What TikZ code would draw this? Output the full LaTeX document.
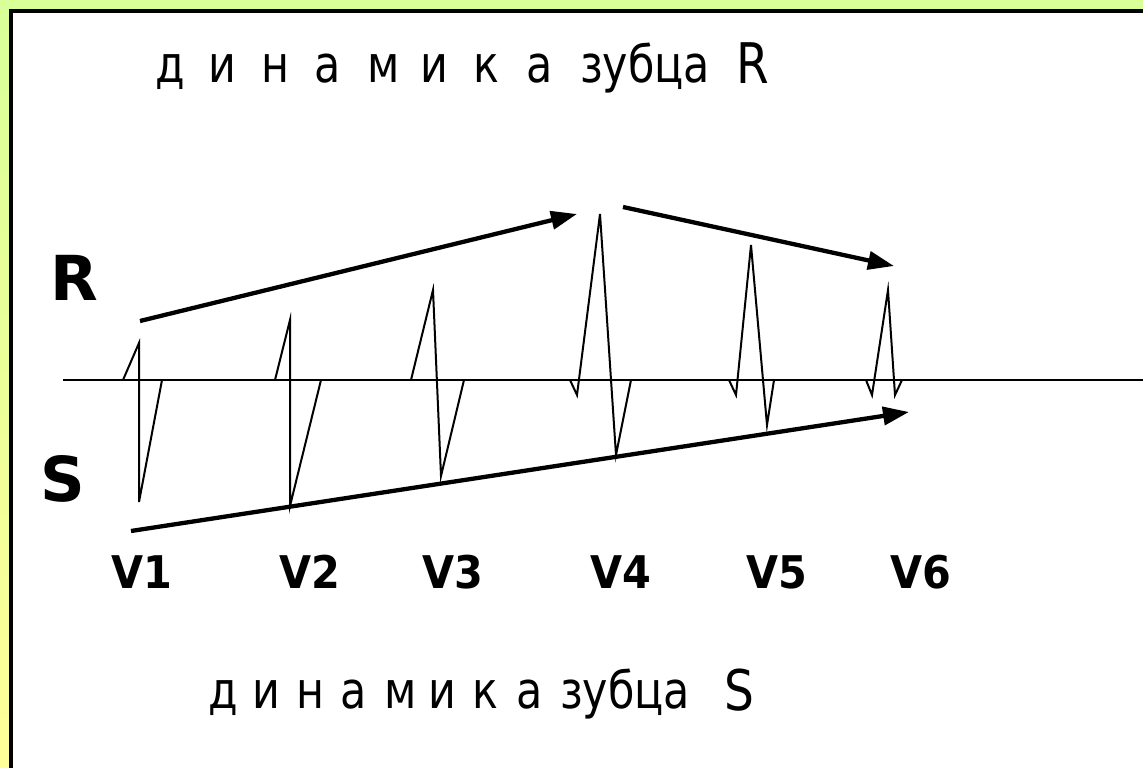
\documentclass[tikz,border=0pt]{standalone}
\usepackage{fontspec}
\setmainfont{DejaVu Sans}
\usetikzlibrary{arrows.meta}
\definecolor{bgtop}{RGB}{217,255,153}
\definecolor{bgbot}{RGB}{255,255,153}
\begin{document}
\begin{tikzpicture}[x=1pt,y=-1pt,
  wave/.style={line width=2pt},
  trend/.style={line width=4.3pt,-{Triangle[length=26pt,width=18pt]}},
  lett/.style={font=\fontsize{51}{51}\selectfont,anchor=base west,inner sep=0pt},
  big/.style={font=\fontsize{56}{56}\selectfont,anchor=base west,inner sep=0pt},
  side/.style={font=\fontsize{62}{62}\selectfont\bfseries,anchor=base west,inner sep=0pt},
  lead/.style={font=\fontsize{45}{45}\selectfont\bfseries,anchor=base west,inner sep=0pt}]
\useasboundingbox (0,0) rectangle (1143,768);
\shade[top color=bgtop,bottom color=bgbot] (0,0) rectangle (1143,768);
\draw[line width=4pt,fill=white] (11,11) rectangle (1170,800);
% isoline
\coordinate (L0) at (63,380);
\coordinate (L1) at (1143,380);
\draw[wave] (L0) -- (L1);
% complexes
\draw[wave] (123,380)--(139,343)--(139,502)--(162,380);
\draw[wave] (275,380)--(290,320)--(290,506)--(321,380);
\draw[wave] (411,380)--(433,290)--(441,476)--(464,380);
\draw[wave] (570,380)--(577,395)--(600,214)--(616,455)--(631,380);
\draw[wave] (729,380)--(736,395)--(751,245)--(767,425)--(774,380);
\draw[wave] (866,380)--(872,395)--(888,290)--(895,395)--(902,380);
% trend arrows
\coordinate (a1s) at (140,321);
\coordinate (a1e) at (577,214);
\coordinate (a2s) at (623,207);
\coordinate (a2e) at (894,266);
\coordinate (a3s) at (131,531);
\coordinate (a3e) at (909,412);
\draw[trend] (a1s) -- (a1e);
\draw[trend] (a2s) -- (a2e);
\draw[trend] (a3s) -- (a3e);
% side labels
\node[side] (R) at (50,300) {R};
\node[side] (S) at (40,501) {S};
% leads
\foreach \t/\x in {V1/111,V2/279,V3/422,V4/590,V5/746,V6/890}
  \node[lead] (\t) at (\x,588) {\scalebox{0.92}[1]{\t}};
% top title
\foreach \c/\x [count=\i] in {д/155,и/208,н/261,а/314,м/367,и/420,к/473,а/526}
  \node[lett] (t\i) at (\x,82) {\scalebox{0.84}[1]{\c}};
\node[lett] (tz) at (580,82) {\scalebox{0.84}[1]{зубца}};
\node[big] (tR) at (736,84) {\scalebox{0.84}[1]{R}};
% bottom title
\foreach \c/\x [count=\i] in {д/208,и/252,н/296,а/340,м/384,и/428,к/472,а/516}
  \node[lett] (b\i) at (\x,708) {\scalebox{0.84}[1]{\c}};
\node[lett] (bz) at (560,708) {\scalebox{0.84}[1]{зубца}};
\node[big] (bS) at (724,710) {\scalebox{0.84}[1]{S}};
\end{tikzpicture}
\end{document}
